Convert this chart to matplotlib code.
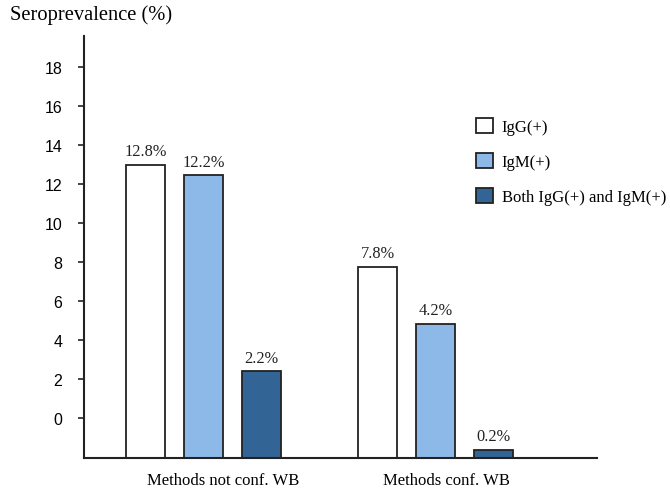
import matplotlib.pyplot as plt
import numpy as np

# data
groups = ["Methods not conf. WB", "Methods conf. WB"]
series = ["IgG(+)", "IgM(+)", "Both IgG(+) and IgM(+)"]
labels = [["12.8%", "12.2%", "2.2%"], ["7.8%", "4.2%", "0.2%"]]
# bar tops as drawn, on the y tick scale of the picture
tops = [[13.0, 12.45, 2.4], [7.75, 4.85, -1.62]]
base = -2.05
colors = ["white", "#8db9e8", "#336496"]
yticks = [0, 2, 4, 6, 8, 10, 12, 14, 16, 18]
group_label_pos = [1.33, 5.19]

serif = "Liberation Serif"
sans = "Liberation Sans"

fig = plt.figure(figsize=(6.7, 4.89), dpi=100)
ax = fig.add_axes([84 / 670, 1 - 459 / 489, (597 - 84) / 670, (459 - 37) / 489])

handles = []
for g in range(len(groups)):
    for s in range(len(series)):
        x = g * 4 + s
        b = ax.bar(x, tops[g][s] - base, bottom=base, width=0.67,
                   color=colors[s], edgecolor="#222222", linewidth=1.3,
                   label=series[s] if g == 0 else None)
        if g == 0:
            handles.append(b)
        ax.annotate(labels[g][s], (x, tops[g][s]), xytext=(0, 4),
                    textcoords="offset points", ha="center", va="bottom",
                    fontsize=11.8, family=serif, color="#222222")

ax.set_xlim(-1.06, 7.78)
ax.set_ylim(base, 19.6)
ax.set_yticks(yticks)
ax.set_yticklabels([str(t) for t in yticks], family=sans, fontsize=11.5)
ax.tick_params(axis="y", length=4.5, width=1.2, pad=11, color="#222222")
ax.set_xticks(group_label_pos)
ax.set_xticklabels(groups, family=serif, fontsize=12)
ax.tick_params(axis="x", length=0, pad=10)
for sp in ["top", "right"]:
    ax.spines[sp].set_visible(False)
for sp in ["left", "bottom"]:
    ax.spines[sp].set_linewidth(1.5)
    ax.spines[sp].set_color("#222222")

fig.text(10 / 670, 1 - 5 / 489, "Seroprevalence (%)", family=serif,
         fontsize=14.8, ha="left", va="top")

fig.legend(handles=handles, labels=series, loc="upper left",
           bbox_to_anchor=(476 / 670, 1 - 119 / 489), frameon=False,
           borderpad=0, borderaxespad=0, handlelength=1.0, handleheight=1.0,
           handletextpad=0.55, labelspacing=1.08,
           prop={"family": serif, "size": 12})

fig.savefig("out.png", dpi=100)
